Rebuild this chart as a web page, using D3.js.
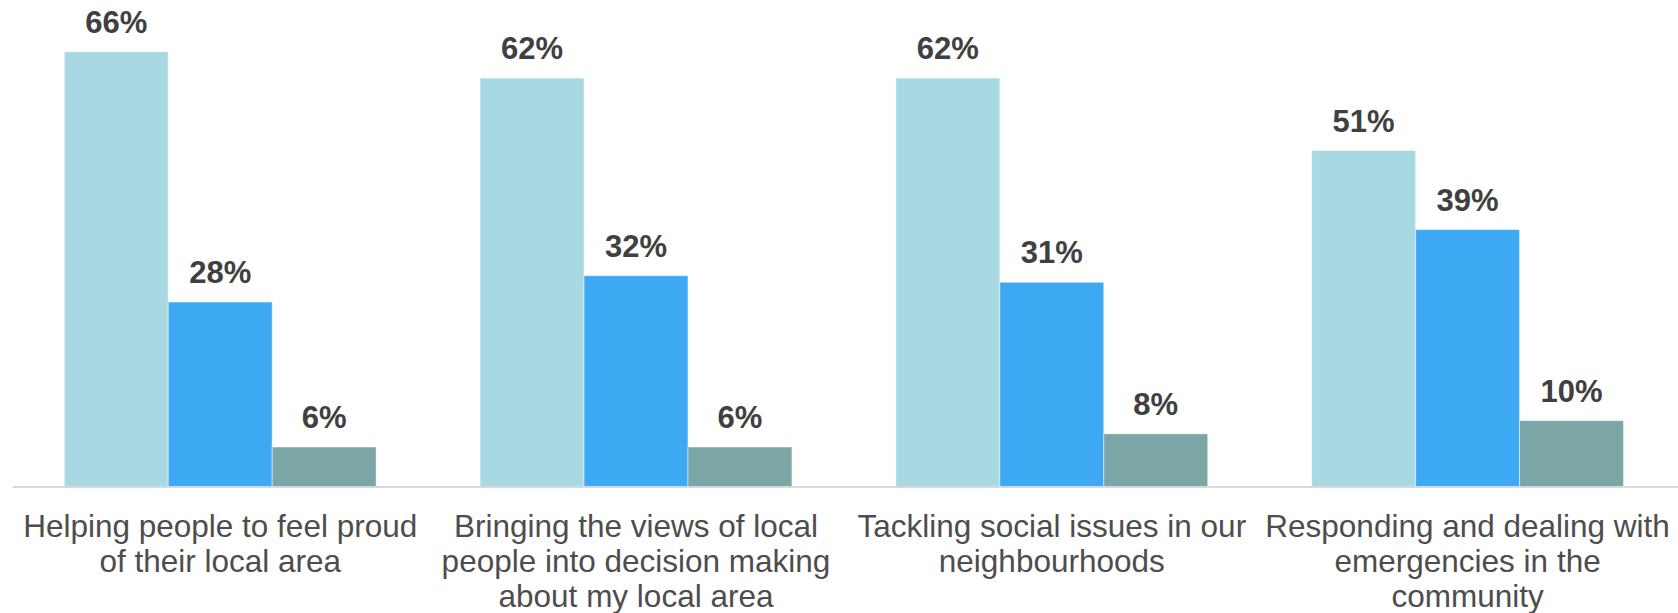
<!DOCTYPE html>
<html>
<head>
<meta charset="utf-8">
<script src="https://cdn.jsdelivr.net/npm/d3@7"></script>
<style>
  body { margin: 0; background: #fff; }
  svg { display: block; }
</style>
</head>
<body>
<script>
// chart data
var categories = [
  "Helping people to feel proud of their local area",
  "Bringing the views of local people into decision making about my local area",
  "Tackling social issues in our neighbourhoods",
  "Responding and dealing with emergencies in the community"
];
// how each category label wraps, line by line
var categoryLines = [
  ["Helping people to feel proud", "of their local area"],
  ["Bringing the views of local", "people into decision making", "about my local area"],
  ["Tackling social issues in our", "neighbourhoods"],
  ["Responding and dealing with", "emergencies in the", "community"]
];
var seriesKeys = ["s1", "s2", "s3"];
var series1 = [66, 62, 62, 51];
var series2 = [28, 32, 31, 39];
var series3 = [6, 6, 8, 10];

var width = 1678;
var height = 613;
var baseY = 486.5;
var colors = ["#A8D9E3", "#3DA9F3", "#7BA6A5"];

var rows = categories.map(function(c, i) {
  return { cat: c, lines: categoryLines[i], vals: [series1[i], series2[i], series3[i]] };
});

var svg = d3.select("body")
  .append("svg")
  .attr("width", width)
  .attr("height", height);

var x0 = d3.scaleBand()
  .domain(categories)
  .range([12.3, 1675.5])
  .paddingInner(0.25)
  .paddingOuter(0.125);

var x1 = d3.scaleBand()
  .domain(seriesKeys)
  .range([0, x0.bandwidth()]);

var y = d3.scaleLinear()
  .domain([0, 70])
  .range([baseY, baseY - 70 * 6.588]);

var groups = svg.selectAll(".group")
  .data(rows)
  .enter().append("g")
  .attr("class", "group")
  .attr("transform", function(d) { return "translate(" + x0(d.cat) + ",0)"; });

var bars = groups.selectAll("rect")
  .data(function(d) { return d.vals.map(function(v, i) { return { key: seriesKeys[i], v: v, i: i }; }); })
  .enter();

bars.append("rect")
  .attr("x", function(d) { return x1(d.key); })
  .attr("y", function(d) { return y(d.v); })
  .attr("width", x1.bandwidth())
  .attr("height", function(d) { return y(0) - y(d.v); })
  .attr("fill", function(d) { return colors[d.i]; })
  .attr("stroke", "#ffffff")
  .attr("stroke-opacity", 0.5)
  .attr("stroke-width", 1);

bars.append("text")
  .attr("x", function(d) { return x1(d.key) + x1.bandwidth() / 2; })
  .attr("y", function(d) { return y(d.v) - 19; })
  .attr("text-anchor", "middle")
  .style("font-family", "'Liberation Sans', Arial, sans-serif")
  .style("font-weight", "bold")
  .style("font-size", "31px")
  .attr("fill", "#404040")
  .text(function(d) { return d.v + "%"; });

// baseline
svg.append("line")
  .attr("x1", 12.7)
  .attr("x2", width)
  .attr("y1", baseY + 0.5)
  .attr("y2", baseY + 0.5)
  .attr("stroke", "#D9D9D9")
  .attr("stroke-width", 2);

// category labels
var labels = svg.selectAll(".cat-label")
  .data(rows)
  .enter().append("text")
  .attr("class", "cat-label")
  .attr("text-anchor", "middle")
  .style("font-family", "'Liberation Sans', Arial, sans-serif")
  .style("font-size", "31.5px")
  .attr("fill", "#4D4D4D");

labels.selectAll("tspan")
  .data(function(d) {
    var cx = x0(d.cat) + x0.bandwidth() / 2;
    return d.lines.map(function(l, i) { return { t: l, cx: cx, i: i }; });
  })
  .enter().append("tspan")
  .attr("x", function(d) { return d.cx; })
  .attr("y", function(d) { return 536.5 + d.i * 35; })
  .text(function(d) { return d.t; });
</script>
</body>
</html>
